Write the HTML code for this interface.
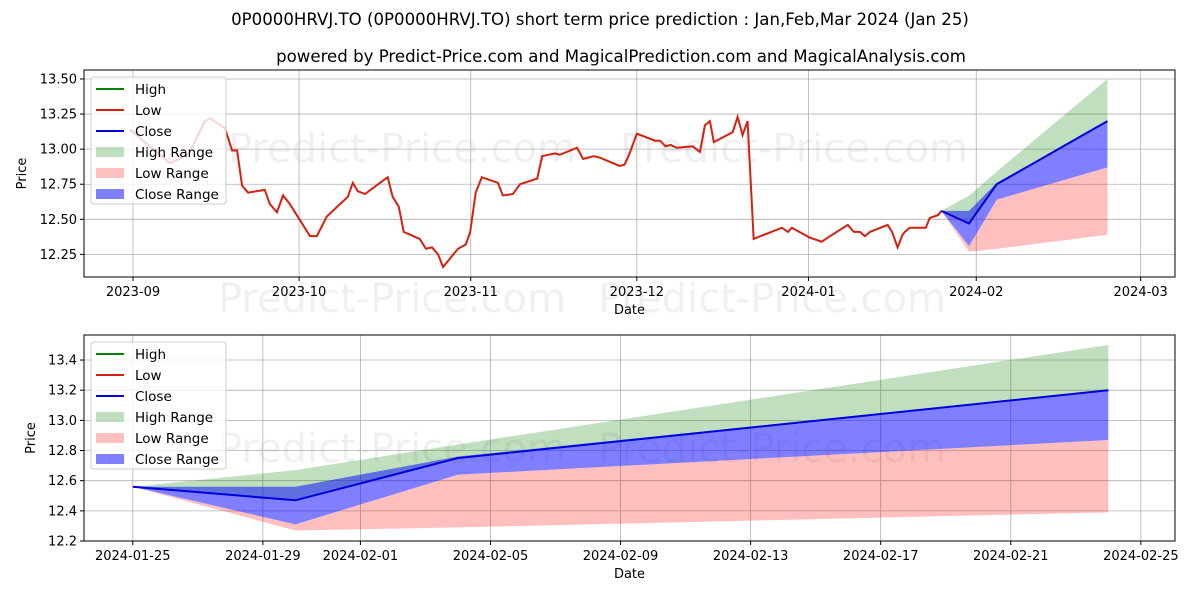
<!DOCTYPE html>
<html><head><meta charset="utf-8"><style>
body{margin:0;background:#fff;font-family:"Liberation Sans","DejaVu Sans",sans-serif}
svg text{font-family:"DejaVu Sans","Liberation Sans",sans-serif}
</style></head><body>
<svg id="c" width="1200" height="600" xmlns="http://www.w3.org/2000/svg"></svg>
<script>
// days since 2023-09-01
const histDays=[-0.5,3,6.7,10,13,13.9,16.6,17.9,18.8,19.7,20.8,23.8,24.7,26,27.1,28.3,30.7,31.96,33.2,35,38.8,39.7,40.6,41.9,46,46.9,48,48.9,51.8,52.9,54,55.1,56,58.7,60.1,60.9,61.9,63,65.9,66.8,68.6,69.9,73,73.9,76.2,77.1,80.2,81.3,83.2,84.3,87.9,88.8,89.7,91,94.3,95.2,96.2,97.1,98.2,101.1,102.4,103.3,104.2,104.9,108.3,109.2,110.1,111,112.1,117.2,118.3,119,122.2,124.4,125.5,129.1,130.2,131.3,132.2,133.1,136.3,137.1,138.1,139,139.4,140.3,143.2,143.9,145.4,146];
const histLow=[13.14,13.02,12.90,12.96,13.20,13.22,13.15,12.99,12.99,12.74,12.69,12.71,12.61,12.55,12.67,12.61,12.46,12.38,12.38,12.52,12.66,12.76,12.70,12.68,12.80,12.66,12.59,12.41,12.36,12.29,12.30,12.25,12.16,12.29,12.32,12.41,12.69,12.80,12.76,12.67,12.68,12.75,12.79,12.95,12.97,12.96,13.01,12.93,12.95,12.94,12.88,12.89,12.97,13.11,13.06,13.06,13.02,13.03,13.01,13.02,12.98,13.17,13.20,13.05,13.12,13.23,13.10,13.20,12.36,12.44,12.41,12.44,12.37,12.34,12.37,12.46,12.41,12.41,12.38,12.41,12.46,12.41,12.30,12.39,12.41,12.44,12.44,12.51,12.53,12.56];
// prediction: days since 2024-01-25
const predDays=[0,5,10,30];
const predClose=[12.56,12.47,12.75,13.20];
const predHigh=[12.56,12.67,12.84,13.50];
const predCloseHi=[12.56,12.56,12.76,13.20];
const predCloseLo=[12.56,12.31,12.64,12.87];
const predLow=[12.56,12.27,12.29,12.39];
const topYTicks=[12.25,12.50,12.75,13.00,13.25,13.50];
const topXTicks=["2023-09","2023-10","2023-11","2023-12","2024-01","2024-02","2024-03"];
const topXTickDays=[0,30,61,91,122,152.3,182];
const botYTicks=[12.2,12.4,12.6,12.8,13.0,13.2,13.4];
const botXTicks=["2024-01-25","2024-01-29","2024-02-01","2024-02-05","2024-02-09","2024-02-13","2024-02-17","2024-02-21","2024-02-25"];
const botXTickDays=[0,4,7,11,15,19,23,27,31];

const svg=document.getElementById('c');const NS='http://www.w3.org/2000/svg';
function el(t,a,p,txt){const e=document.createElementNS(NS,t);for(const k in a)e.setAttribute(k,a[k]);if(txt!==undefined)e.textContent=txt;(p||svg).appendChild(e);return e;}
const PRED0=146;

function panel(cfg){
  const g=el('g',{});
  
  
  const {L,R,T,B}=cfg;
  const X=d=>L+(d-cfg.x0)/(cfg.x1-cfg.x0)*(R-L);
  const Y=v=>B-(v-cfg.y0)/(cfg.y1-cfg.y0)*(B-T);
  cfg.wm.forEach(w=>{const t=el('text',{x:w[0],y:w[1],'font-size':40,fill:'#000','fill-opacity':0.06},g,'Predict-Price.com');});
  cfg.yt.forEach(v=>{const y=Y(v);el('line',{x1:L,x2:R,y1:y,y2:y,stroke:'#b0b0b0','stroke-width':0.8},g);el('line',{x1:L-4,x2:L,y1:y,y2:y,stroke:'#000'},g);
    const t=el('text',{x:L-7,y:y+4.5,'font-size':13,'text-anchor':'end'},g,v.toFixed(cfg.yd));});
  cfg.xt.forEach((s,i)=>{const x=X(cfg.xtd[i]);el('line',{x1:x,x2:x,y1:T,y2:B,stroke:'#b0b0b0','stroke-width':0.8},g);el('line',{x1:x,x2:x,y1:B,y2:B+4,stroke:'#000'},g);
    const t=el('text',{x:x,y:B+19,'font-size':13,'text-anchor':'middle'},g,s);});
  const pd=predDays.map(d=>d+cfg.pOff);
  function band(up,lo,col,op,name){let d='M'+pd.map((v,i)=>X(v)+','+Y(up[i])).join('L')+'L'+pd.slice().reverse().map((v,i)=>X(v)+','+Y(lo[lo.length-1-i])).join('L')+'Z';
    const p=el('path',{d:d,fill:col,'fill-opacity':op},g);}
  band(predHigh,predClose,'#008000',0.25,'high-range');
  band(predCloseLo,predLow,'#ff0000',0.25,'low-range');
  band(predCloseHi,predCloseLo,'#0000ff',0.5,'close-range');
  if(cfg.hist){const p=el('polyline',{points:histDays.map((d,i)=>X(d)+','+Y(histLow[i])).join(' '),fill:'none',stroke:'#d62010','stroke-width':2},g);}
  const cl=el('polyline',{points:pd.map((d,i)=>X(d)+','+Y(predClose[i])).join(' '),fill:'none',stroke:'#0000dd','stroke-width':2},g);
  el('rect',{x:L,y:T,width:R-L,height:B-T,fill:'none',stroke:'#000','stroke-width':1},g);
  const lg=el('g',{},g);
  const lx=L+7,ly=T+7;
  el('rect',{x:lx,y:ly,width:135,height:127,rx:3,fill:'#fff','fill-opacity':0.8,stroke:'#ccc'},lg);
  const items=[['High','line','#008000'],['Low','line','#d62010'],['Close','line','#0000dd'],['High Range','box','rgba(0,128,0,0.25)'],['Low Range','box','rgba(255,0,0,0.25)'],['Close Range','box','rgba(0,0,255,0.5)']];
  items.forEach((it,i)=>{const y=ly+12+i*21;
    if(it[1]=='line')el('line',{x1:lx+5,x2:lx+33,y1:y,y2:y,stroke:it[2],'stroke-width':2},lg);
    else el('rect',{x:lx+5,y:y-5,width:28,height:10,fill:it[2]},lg);
    const t=el('text',{x:lx+44,y:y+5,'font-size':13.5},lg,it[0]);});
  const xt=el('text',{x:(L+R)/2,y:B+37,'font-size':13,'text-anchor':'middle'},g,'Date');
  const yt=el('text',{x:0,y:0,'font-size':13,'text-anchor':'middle',transform:`translate(${cfg.ylx},${(T+B)/2}) rotate(-90)`},g,'Price');
}
const t1=el('text',{x:600,y:25,'font-size':16.6,'text-anchor':'middle'},svg,'0P0000HRVJ.TO (0P0000HRVJ.TO) short term price prediction : Jan,Feb,Mar 2024 (Jan 25)');

const t2=el('text',{x:621,y:62,'font-size':16.6,'text-anchor':'middle'},svg,'powered by Predict-Price.com and MagicalPrediction.com and MagicalAnalysis.com');

panel({name:'history-panel',L:84,R:1175,T:70,B:277,x0:-8.85,x1:188.2,y0:12.0888,y1:13.564,yt:topYTicks,yd:2,xt:topXTicks,xtd:topXTickDays,pOff:PRED0,hist:true,ylx:26,wm:[[228,162],[218,312],[620,162],[598,312]]});
panel({name:'prediction-panel',L:84,R:1175,T:335,B:541,x0:-1.5,x1:32.05,y0:12.2,y1:13.566,yt:botYTicks,yd:1,xt:botXTicks,xtd:botXTickDays,pOff:0,hist:false,ylx:35,wm:[[218,462],[598,462]]});
</script>
</body></html>
